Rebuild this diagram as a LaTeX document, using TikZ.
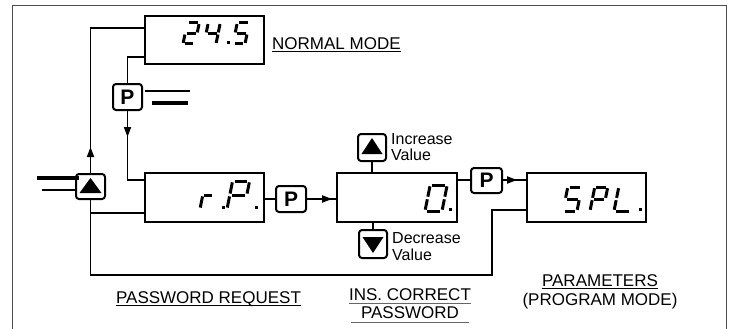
\documentclass[tikz,border=0pt]{standalone}
\usepackage{fontspec}
\setmainfont{Liberation Sans}
\usetikzlibrary{arrows.meta,calc,decorations.markings}

\def\SSa{(.13,1)--(.87,1)}
\def\SSb{(1,.95)--(1,.55)}
\def\SSc{(1,.45)--(1,.05)}
\def\SSd{(.13,0)--(.87,0)}
\def\SSe{(0,.05)--(0,.45)}
\def\SSf{(0,.55)--(0,.95)}
\def\SSg{(.13,.5)--(.87,.5)}
\newcommand\sdig[5]{%
  \begin{scope}[shift={(#1,#2)},xslant=0.2,xscale=#3,yscale=-#4]
    \foreach \s in {#5}{\draw[segline] \csname SS\s\endcsname;}
  \end{scope}}
\newcommand\sdot[2]{\fill (#1-1.5,#2) rectangle (#1+1.5,#2-3);}

\tikzset{
  box/.style={draw, line width=1.8pt, minimum width=119pt, minimum height=49pt, inner sep=0pt},
  btn/.style={draw, line width=2pt, rounded corners=3pt, inner sep=0pt},
  conn/.style={line width=1.8pt},
  segline/.style={line width=3pt, line cap=butt},
  lbl/.style={inner sep=0pt, font=\fontsize{17}{17}\selectfont},
  small/.style={inner sep=0pt, font=\fontsize{16}{16}\selectfont},
  pkey/.style={font=\fontsize{21}{21}\selectfont\bfseries},
  midarrow/.style={postaction={decorate}, decoration={markings,
      mark=at position #1 with {\arrow{Triangle[length=10pt,width=7pt]}}}},
}

\begin{document}
\begin{tikzpicture}[x=1pt,y=-1pt]
\useasboundingbox (0,0) rectangle (733,329);
% frame
\draw[line width=1pt, black!70] (12,329) -- (12,6) -- (726,6) -- (726,329);

% display boxes
\node[box, minimum height=48pt] (normal) at (204.5,40) {};
\node[box] (rp) at (204.5,197.5) {};
\node[box, minimum width=120pt] (zero) at (397,197.5) {};
\node[box] (spl) at (586.5,197.5) {};

% buttons
\node[btn, minimum width=29pt, minimum height=25pt] (bUp) at (90.5,186.5) {};
\fill ($(bUp.center)+(-11,6.5)$) -- ++(22,0) -- ++(-11,-15) -- cycle;
\node[btn, minimum width=29pt, minimum height=26pt, pkey] (bP1) at (127.5,97) {P};
\node[btn, minimum width=30pt, minimum height=26pt, pkey] (bP2) at (291,199) {P};
\node[btn, minimum width=31pt, minimum height=25pt, pkey] (bP3) at (486.5,180.5) {P};
\node[btn, minimum width=28pt, minimum height=27pt] (bInc) at (372,147.5) {};
\fill ($(bInc.center)+(-10.5,6.5)$) -- ++(21,0) -- ++(-10.5,-16) -- cycle;
\node[btn, minimum width=28pt, minimum height=28pt] (bDec) at (373,244) {};
\fill ($(bDec.center)+(-10.5,-7)$) -- ++(21,0) -- ++(-10.5,16) -- cycle;

% bars beside keys
\draw[line width=1.6pt] (145,91) -- (190,91);
\draw[line width=4pt] (152,103) -- (188,103);
\draw[line width=4pt] (37,178) -- (79,178);
\draw[line width=1.6pt] (42,190) -- (77,190);

% anchor coordinates
\coordinate (nA) at ([yshift=12pt]normal.west);
\coordinate (nB) at ([yshift=-17pt]normal.west);
\coordinate (rA) at ([yshift=17.5pt]rp.west);
\coordinate (rB) at ([yshift=-15.5pt]rp.west);
\coordinate (zA) at ([yshift=17.5pt]zero.east);
\coordinate (sA) at ([yshift=17.5pt]spl.west);
\coordinate (sB) at ([yshift=-12.5pt]spl.west);
\coordinate (loopR) at (492,275);
\coordinate (loopL) at (bUp.south |- loopR);

% connectors
\draw[conn, midarrow=26pt] (bUp.north) -- (bUp.north |- nA) -- (nA);
\draw[conn] (nB) -- (bP1.north |- nB) -- (bP1.north);
\draw[conn, midarrow=26pt] (bP1.south) -- (bP1.south |- rA) -- (rA);
\draw[conn] (rB) -- (bUp.south |- rB);
\draw[conn] (bUp.south) -- (loopL) -- (loopR) -- (loopR |- sB) -- (sB);
\draw[conn] (rp.east |- bP2.west) -- (bP2.west);
\draw[conn, midarrow=-4pt] (bP2.east) -- (zero.west |- bP2.east);
\draw[conn] (zA) -- (bP3.west |- zA);
\draw[conn, midarrow=-9pt] (bP3.east |- sA) -- (sA);
\draw[conn] (bInc.south) -- (bInc.south |- zero.north);
\draw[conn] (bDec.north) -- (bDec.north |- zero.south);

% seven-segment readouts
\sdig{183}{44}{12}{21}{a,b,g,e,d}
\sdig{204}{44}{12}{21}{f,g,b,c}
\sdot{228}{44}
\sdig{233}{44}{12}{21}{a,f,g,c,d}

\sdig{200}{209}{10}{28}{e,g}
\sdot{223}{209}
\sdig{227}{209}{17}{28}{a,b,f,g,e}
\sdot{256}{209}

\sdig{425}{211}{17}{26}{a,b,c,d,e,f}
\sdot{450}{211}

\sdig{563}{211}{14}{24}{a,f,g,c,d}
\sdig{590}{211}{13}{24}{a,b,f,g,e}
\sdig{614}{211}{17}{24}{f,e,d}
\sdot{640}{211}

% labels
\node[lbl, anchor=base west] (tNormal) at (272,49) {NORMAL MODE};
\draw[line width=0.8pt] ([yshift=-2pt]tNormal.base west) -- ([yshift=-2pt]tNormal.base east);

\node[small, anchor=base west] (tInc1) at (391,144) {Increase};
\node[small, anchor=base west] (tInc2) at (391,160) {Value};
\node[small, anchor=base west] (tDec1) at (392,243) {Decrease};
\node[small, anchor=base west] (tDec2) at (392,260) {Value};

\node[lbl, anchor=base] (tPass) at (208.5,303) {PASSWORD REQUEST};
\draw[line width=0.8pt] ([yshift=-2pt]tPass.base west) -- ([yshift=-2pt]tPass.base east);

\node[lbl, anchor=base] (tIns1) at (410,300) {INS. CORRECT};
\draw[line width=0.6pt, black!60] ([yshift=-3pt]tIns1.base west) -- ([yshift=-3pt]tIns1.base east);
\node[lbl, anchor=base] (tIns2) at (410,318) {PASSWORD};
\draw[line width=0.6pt, black!60] ([yshift=-4pt,xshift=-10pt]tIns2.base west) -- ([yshift=-4pt,xshift=10pt]tIns2.base east);

\node[lbl, anchor=base] (tPar1) at (600,286) {PARAMETERS};
\draw[line width=0.8pt] ([yshift=-2pt]tPar1.base west) -- ([yshift=-2pt]tPar1.base east);
\node[lbl, anchor=base] (tPar2) at (600,305) {(PROGRAM MODE)};
\end{tikzpicture}
\end{document}
